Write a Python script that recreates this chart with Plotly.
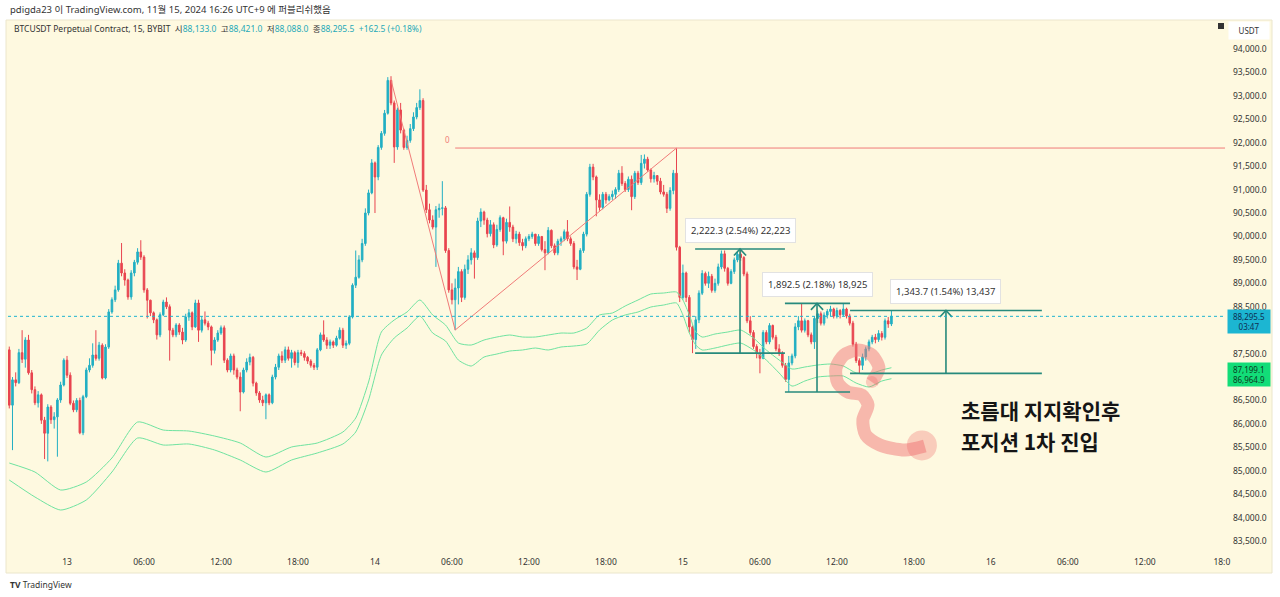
import pandas as pd
import plotly.graph_objects as go

# ---------------- data (BTCUSDT 15m) ----------------
first_open = 87580
closes = [
    86400, 86940, 86880, 87520, 87380, 87790, 87090, 86730, 86450, 86620,
    86080, 85800, 86360, 86090, 86150, 86510, 86830, 87360, 87040, 86440,
    86300, 86500, 85810, 86580, 87150, 87250, 87470, 87400, 87680, 86980,
    87640, 88390, 88650, 88860, 89430, 89220, 89070, 88710, 89220, 89450,
    89670, 89560, 88860, 88640, 88370, 88220, 87900, 88330, 88600, 88500,
    88000, 87900, 88110, 87960, 87790, 88280, 88370, 88070, 88580, 88000,
    88220, 88150, 88070, 87570, 87790, 87940, 88050, 87360, 87150, 87450,
    87150, 87000, 86680, 87150, 87320, 87420, 86870, 86660, 86510, 86450,
    86620, 86450, 87000, 87210, 87450, 87360, 87580, 87400, 87520, 87310,
    87520, 87500, 87420, 87340, 87250, 87210, 87580, 87900, 87790, 87680,
    87750, 87680, 87830, 88000, 87680, 87720, 88280, 88960, 89130, 89500,
    89850, 90500, 90930, 91570, 91270, 91900, 92200, 92630, 93330, 92850,
    91910, 92700, 92270, 91900, 92050, 92300, 92550, 92750, 92900, 90990,
    90570, 90350, 90200, 90570, 90600, 90610, 89700, 88860, 88650, 88900,
    89250, 88700, 89300, 89500, 89650, 89550, 90330, 90520, 90350, 90060,
    90250, 89820, 90150, 90400, 89900, 90300, 90200, 89950, 90050, 89870,
    89800, 89950, 90000, 90050, 89850, 90000, 89720, 89650, 90130, 89800,
    89650, 89900, 89950, 90100, 89950, 89850, 89350, 89300, 89700, 90050,
    90900, 91480, 91270, 90780, 90620, 90900, 90780, 90850, 90900, 91000,
    91350, 91130, 91000, 91220, 90850, 91350, 91150, 91560, 91650, 91420,
    91230, 91300, 91180, 90950, 90900, 90600, 90980, 91350, 89770, 88700,
    89220, 88700, 88070, 87800, 88220, 88790, 89210, 89000, 89150, 88850,
    89000, 89350, 89630, 89320, 89000, 89250, 89500, 89620, 89550, 89200,
    88200, 87950, 87650, 87500, 87400, 87950, 87750, 88100, 87850, 87600,
    87500, 87250, 86950, 87300, 87450, 88070, 88200, 88000, 88200, 87900,
    87750, 88250, 88350, 88150, 88320, 88400, 88450, 88300, 88420, 88330,
    88450, 88300, 88150, 87700, 87350, 87250, 87430, 87600, 87750, 87850,
    87800, 87930, 87850, 88200, 88133, 88295.5,
]
highs = [
    87650, 87000, 87100, 87600, 88000, 87850, 87900, 87150, 86800, 86700,
    86650, 86150, 86420, 86400, 86250, 86550, 86900, 87400, 87450, 87100,
    86500, 86550, 86560, 86620, 87200, 87400, 87720, 88000, 87750, 87720,
    87700, 88450, 88700, 88950, 89500, 89860, 89300, 89100, 89280, 89500,
    89750, 89920, 89600, 88900, 88650, 88400, 88250, 88380, 88650, 88700,
    88550, 88050, 88150, 88150, 88050, 88350, 88450, 88400, 88650, 88650,
    88300, 88400, 88200, 88100, 87850, 88000, 88100, 88100, 87400, 87500,
    87500, 87200, 87100, 87200, 87400, 87500, 87450, 86900, 86700, 86600,
    86650, 86650, 87050, 87280, 87500, 87550, 87650, 87650, 87580, 87560,
    87580, 87580, 87550, 87450, 87380, 87300, 87620, 87950, 88210, 87850,
    87800, 87780, 87880, 88060, 88050, 87780, 88320, 89000, 89700, 89600,
    89950, 90600, 91000, 91650, 91600, 91950, 92250, 92700, 93400, 93420,
    92900, 92750, 92850, 92300, 92150, 92400, 92650, 92850, 93140, 92950,
    91100, 90700, 90450, 90650, 90700, 91180, 90650, 89750, 89000, 89100,
    89350, 89300, 89400, 89600, 89750, 89700, 90400, 90600, 90550, 90400,
    90350, 90300, 90250, 90450, 90420, 90380, 90640, 90250, 90120, 90100,
    89950, 90000, 90050, 90100, 90050, 90050, 90000, 89900, 90200, 90150,
    89850, 89950, 90000, 90150, 90350, 90000, 89900, 89500, 89750, 90100,
    90950, 91550, 91550, 91300, 90900, 90950, 90950, 90900, 90980, 91050,
    91420, 91500, 91180, 91280, 91300, 91400, 91400, 91740, 91750, 91700,
    91450, 91380, 91300, 91250, 91100, 90950, 91050, 91420, 91880, 89800,
    89400, 89250, 88750, 88100, 88300, 88850, 89280, 89250, 89250, 89200,
    89100, 89420, 89700, 89700, 89350, 89300, 89550, 89680, 89732, 89580,
    89250, 88300, 88000, 87700, 87600, 88000, 88000, 88150, 88120, 87900,
    87700, 87550, 87300, 87450, 87500, 88150, 88300, 88572, 88250, 88220,
    87950, 88300, 88420, 88400, 88380, 88450, 88520, 88480, 88480, 88450,
    88560, 88480, 88350, 88200, 87750, 87400, 87500, 87650, 87800, 87900,
    87920, 88000, 87980, 88250, 88280, 88421,
]
lows = [
    86330, 85440, 86800, 86850, 87300, 87200, 87050, 86650, 86400, 86350,
    86000, 85250, 85200, 86000, 85900, 85300, 86450, 86800, 86980, 86400,
    86250, 86250, 85780, 85760, 86550, 87100, 87200, 87350, 87350, 86950,
    86950, 87600, 88350, 88600, 88820, 89150, 88950, 88650, 88650, 89150,
    89400, 89500, 88800, 88250, 88300, 88150, 87800, 87850, 88300, 88450,
    87350, 87850, 87850, 87900, 87700, 87750, 88200, 88000, 88050, 87750,
    87950, 88100, 88000, 87250, 87500, 87750, 87900, 87300, 87100, 87100,
    87050, 86950, 86270, 86650, 87100, 87250, 86800, 86600, 86450, 86380,
    86100, 86400, 86420, 86950, 87150, 87300, 87300, 87350, 87200, 87250,
    87200, 87450, 87350, 87280, 87200, 87150, 87150, 87550, 87750, 87600,
    87600, 87620, 87650, 87800, 87620, 87600, 87680, 88250, 88900, 89100,
    89450, 89800, 90450, 90900, 90500, 91200, 91850, 92150, 92600, 92800,
    91570, 91850, 92200, 91850, 91850, 92000, 92250, 92500, 92700, 90950,
    90500, 90280, 90150, 89350, 90400, 90450, 89650, 88800, 88550, 88000,
    88550, 88600, 88650, 89200, 89400, 89100, 89500, 90200, 90250, 89980,
    90000, 89750, 89780, 90100, 89600, 89850, 90100, 89880, 89850, 89800,
    89700, 89750, 89900, 89950, 89800, 89800, 89680, 89280, 89620, 89750,
    89600, 89600, 89800, 89900, 89900, 89800, 89300, 89070, 89280, 89650,
    90000, 90850, 91200, 90430, 90550, 90580, 90700, 90750, 90780, 90800,
    90950, 91080, 90950, 90950, 90560, 90800, 91100, 91100, 91450, 91380,
    91150, 91150, 91100, 90900, 90850, 90500, 90550, 90900, 89700, 88600,
    88650, 88600, 87950, 87510, 87600, 88150, 88750, 88950, 88900, 88800,
    88800, 88950, 89300, 89250, 88950, 88980, 89200, 89450, 89480, 89150,
    88150, 87900, 87600, 87400, 87080, 87380, 87700, 87700, 87800, 87550,
    87450, 87200, 86900, 86680, 87250, 87400, 88000, 87950, 87950, 87850,
    87700, 87600, 88150, 88100, 88100, 88250, 88300, 88250, 88250, 88250,
    88300, 88250, 88100, 87650, 87300, 87080, 87150, 87350, 87550, 87700,
    87720, 87750, 87780, 87800, 88050, 88088,
]

# envelope / band indicator (sampled at these bar numbers)
band_idx = [0, 8, 16, 24, 32, 40, 48, 56, 64, 72, 80, 88, 96, 104, 108, 112, 116, 120, 124, 128,
            132, 136, 140, 144, 148, 152, 156, 160, 164, 168, 172, 176, 180, 184, 188, 192, 196, 200, 204, 208,
            210, 212, 214, 216, 220, 224, 228, 232, 236, 240, 244, 248, 252, 256, 260, 264, 268, 272, 275]
band_upper = [85165, 84973, 84589, 84760, 85272, 86040, 85869, 85848, 85741, 85592,
              85293, 85507, 85592, 85827, 86126, 86894, 87961, 88217, 88388, 88644,
              88324, 88110, 87726, 87683, 87790, 87854, 87897, 87854, 87854, 87897,
              87939, 87939, 88046, 88324, 88366, 88516, 88644, 88772, 88793, 88814,
              88644, 88324, 87961, 87854, 87918, 87961, 88003, 87833, 87577, 87363,
              87171, 87214, 87257, 87278, 87235, 87086, 87064, 87150, 87199.1]
band_lower = [84802, 84440, 84162, 84376, 84973, 85699, 85549, 85571, 85443, 85229,
              84973, 85229, 85379, 85571, 85827, 86510, 87470, 87833, 88046, 88302,
              87939, 87769, 87363, 87235, 87427, 87491, 87555, 87577, 87619, 87577,
              87641, 87662, 87705, 88003, 88217, 88324, 88388, 88494, 88537, 88580,
              88324, 87939, 87683, 87577, 87619, 87683, 87726, 87577, 87363, 87086,
              86808, 86915, 87000, 87022, 87022, 86872, 86787, 86915, 86964.9]

# drawings
swing_bars = [119, 139, 208]
swing_prices = [93338, 88003, 91887]
fib_end_bar = 379

measure_lows = [87510.0, 86680.0, 87077.3]
measure_highs = [89732.3, 88572.5, 88421.0]
measure_start = [213.8, 241.8, 262.1]
measure_end = [241.8, 262.1, 321.9]
measure_mid = [227.8, 251.8, 292.0]
measure_labels = ["2,222.3 (2.54%) 22,223", "1,892.5 (2.18%) 18,925", "1,343.7 (1.54%) 13,437"]

stroke_bars = [268.9, 271.1, 268.9, 264.6, 260.2, 257.7, 258.3, 261.4, 265.8, 267.7, 266.1, 267.0,
               271.4, 279.2, 285.4]
stroke_prices = [86894, 87193, 87470, 87577, 87470, 87193, 86872, 86680, 86616, 86403, 86083, 85763,
                 85550, 85443, 85528]

note_lines = ["초름대 지지확인후", "포지션 1차 진입"]

y_ticks = [83500, 84000, 84500, 85000, 85500, 86000, 86500, 87500, 88500,
           89000, 89500, 90000, 90500, 91000, 91500, 92000, 92500, 93000, 93500, 94000]

# ---------------- figure ----------------
t0 = pd.Timestamp("2024-11-12 19:30")
times = pd.date_range(t0, periods=len(closes), freq="15min")
opens = [first_open] + closes[:-1]


def bt(i):
    return (t0 + pd.Timedelta(minutes=15 * i)).strftime("%Y-%m-%d %H:%M:%S.%f")


def px_x(x):
    return (x - 8) / 1218


def px_y(y):
    return 1 - (y - 21) / 529


UP = "#22afc3"
DOWN = "#e8444f"
BG = "#fef9e0"
BAND = "#6fe3a0"
FIB = "#f07b78"
MEAS = "#278a7c"
FONT = "Noto Sans, Noto Sans CJK KR, sans-serif"

fig = go.Figure()

for vals in (band_upper, band_lower):
    fig.add_trace(go.Scatter(x=[bt(i) for i in band_idx], y=vals, mode="lines",
                             line=dict(color=BAND, width=1, shape="spline", smoothing=0.6),
                             hoverinfo="skip", showlegend=False))

fig.add_trace(go.Candlestick(
    x=times, open=opens, high=highs, low=lows, close=closes,
    increasing=dict(line=dict(color=UP, width=1), fillcolor=UP),
    decreasing=dict(line=dict(color=DOWN, width=1), fillcolor=DOWN),
    whiskerwidth=0, hoverinfo="skip", showlegend=False))

# pink freehand stroke (semi-transparent, over the candles)
fig.add_trace(go.Scatter(x=[bt(i) for i in stroke_bars], y=stroke_prices, mode="lines",
                         line=dict(color="rgba(240,120,120,0.5)", width=13, shape="spline", smoothing=0.8),
                         hoverinfo="skip", showlegend=False))
fig.add_trace(go.Scatter(x=[bt(284.5), bt(268.9)], y=[85540, 86894], mode="markers",
                         marker=dict(color="rgba(238,105,105,0.45)", size=[30, 12], line=dict(width=0)),
                         hoverinfo="skip", showlegend=False))

# fib / trend drawings
fig.add_trace(go.Scatter(x=[bt(i) for i in swing_bars], y=swing_prices, mode="lines",
                         line=dict(color=FIB, width=1), hoverinfo="skip", showlegend=False))
fig.add_trace(go.Scatter(x=[bt(swing_bars[1]), bt(fib_end_bar)], y=[swing_prices[2]] * 2, mode="lines",
                         line=dict(color=FIB, width=1), hoverinfo="skip", showlegend=False))

# price-range measure tools
for k in range(3):
    lo, hi = measure_lows[k], measure_highs[k]
    s, e, m = measure_start[k], measure_end[k], measure_mid[k]
    xs = [bt(s), bt(e), None, bt(s), bt(e), None, bt(m), bt(m), None,
          bt(m - 1.9), bt(m), bt(m + 1.9)]
    ys = [lo, lo, None, hi, hi, None, lo, hi, None, hi - 140, hi, hi - 140]
    fig.add_trace(go.Scatter(x=xs, y=ys, mode="lines", line=dict(color=MEAS, width=1.6),
                             hoverinfo="skip", showlegend=False, connectgaps=False))
    fig.add_annotation(x=bt(m), y=hi, xref="x", yref="y", text=measure_labels[k], showarrow=False,
                       yanchor="bottom", yshift=6, bgcolor="white", bordercolor="#e2e2e2",
                       borderwidth=1, borderpad=5, font=dict(size=9.5, color="#333", family=FONT))

fig.add_annotation(x=bt(136.5), y=swing_prices[2], text="0", showarrow=False, yshift=9,
                   font=dict(size=8, color=FIB, family=FONT))

# Korean note (two lines)
for line_txt, yy in zip(note_lines, [410, 441]):
    fig.add_annotation(xref="paper", yref="paper", x=px_x(960), y=px_y(yy), xanchor="left", yanchor="middle",
                       text=f"<b>{line_txt}</b>", showarrow=False, borderpad=0,
                       font=dict(size=21, color="#151515", family="Noto Sans CJK KR"))

shapes = [
    dict(type="rect", xref="paper", yref="paper", x0=px_x(6), x1=px_x(1272), y0=px_y(573), y1=px_y(20),
         fillcolor=BG, line=dict(color="#ebe6cc", width=1), layer="below"),
    dict(type="line", xref="paper", yref="y", x0=0, x1=1, y0=closes[-1], y1=closes[-1],
         line=dict(color="#1fb4cf", width=1, dash="dot"), layer="above"),
    dict(type="rect", xref="paper", yref="paper", x0=px_x(1218), x1=px_x(1224), y0=px_y(29), y1=px_y(23),
         fillcolor="#333", line=dict(width=0)),
]

# axis-side labels
fig.add_annotation(xref="paper", yref="paper", x=px_x(1228), y=px_y(31), xanchor="left", yanchor="middle",
                   text="USDT", showarrow=False, bgcolor="white", width=38, height=15,
                   font=dict(size=8, color="#333", family=FONT))
fig.add_annotation(xref="paper", yref="paper", x=px_x(1227), y=px_y(321.5), xanchor="left", yanchor="middle",
                   text=f"{closes[-1]:,.1f}<br>03:47", showarrow=False, bgcolor="#1cb6d2", width=40,
                   font=dict(size=8, color="#0d2f52", family=FONT))
fig.add_annotation(xref="paper", yref="paper", x=px_x(1227), y=px_y(374.5), xanchor="left", yanchor="middle",
                   text=f"{band_upper[-1]:,.1f}<br>{band_lower[-1]:,.1f}", showarrow=False, bgcolor="#12dd78",
                   width=40, font=dict(size=8, color="#0b3b1f", family=FONT))

# header / legend / footer
fig.add_annotation(xref="paper", yref="paper", x=0, y=px_y(9), xanchor="left", yanchor="middle",
                   text="pdigda23 이 TradingView.com, 11월 15, 2024 16:26 UTC+9 에 퍼블리쉬했음",
                   showarrow=False, font=dict(size=9.5, color="#333", family=FONT))
VC = "#1fa9b8"
chg = closes[-1] - closes[-2]
legend_txt = (f"BTCUSDT Perpetual Contract, 15, BYBIT  시<span style='color:{VC}'>{opens[-1]:,.1f}</span>"
              f"  고<span style='color:{VC}'>{highs[-1]:,.1f}</span>"
              f"  저<span style='color:{VC}'>{lows[-1]:,.1f}</span>"
              f"  종<span style='color:{VC}'>{closes[-1]:,.1f}</span>"
              f"  <span style='color:{VC}'>+{chg:,.1f} (+{chg / opens[-1] * 100:.2f}%)</span>")
fig.add_annotation(xref="paper", yref="paper", x=px_x(12), y=px_y(28), xanchor="left", yanchor="middle",
                   text=legend_txt, showarrow=False, font=dict(size=8.5, color="#333", family=FONT))
fig.add_annotation(xref="paper", yref="paper", x=0, y=px_y(584), xanchor="left", yanchor="middle",
                   text="<b>TV</b> TradingView", showarrow=False, font=dict(size=8.5, color="#333", family=FONT))

x_ticks = pd.date_range("2024-11-13 00:00", "2024-11-16 18:00", freq="6h")
x_labels = [str(t.day) if t.hour == 0 else t.strftime("%H:%M") for t in x_ticks]
x_labels[-1] = "18:0"

fig.update_layout(
    width=1280, height=597, margin=dict(l=8, r=54, t=21, b=47),
    paper_bgcolor="white", plot_bgcolor=BG, showlegend=False, shapes=shapes,
    font=dict(family=FONT, size=9, color="#333"),
    xaxis=dict(type="date", range=[bt(-0.4), bt(379.3)], rangeslider=dict(visible=False),
               showgrid=False, zeroline=False, showline=False, ticks="",
               tickvals=list(x_ticks), ticktext=x_labels, ticklabelstandoff=5,
               tickfont=dict(size=8.5, color="#333")),
    yaxis=dict(range=[83309, 94598], side="right", tickvals=y_ticks, tickformat=",.1f",
               showgrid=False, zeroline=False, showline=False, ticks="", ticklabelstandoff=6,
               tickfont=dict(size=8.5, color="#333")),
)

fig.write_html("out.html", config={"displayModeBar": False},
               post_script="document.body.style.margin='0';document.body.style.overflow='hidden';")
